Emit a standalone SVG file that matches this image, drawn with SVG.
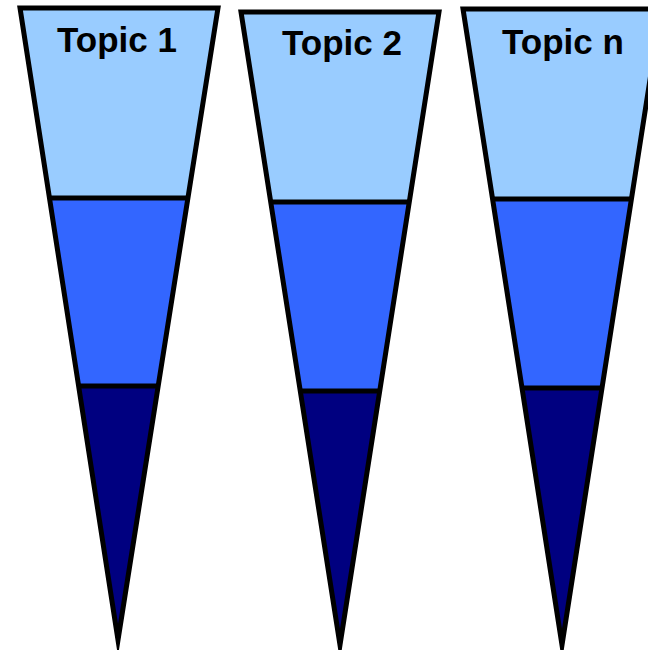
<svg xmlns="http://www.w3.org/2000/svg" width="648" height="650" viewBox="0 0 648 650">
<style>
.l1{fill:#99CCFF}
.l2{fill:#3366FF}
.l3{fill:#000080}
.ol{fill:none;stroke:#000;stroke-width:5;stroke-linejoin:miter;stroke-miterlimit:20}
.sep{stroke:#000;stroke-width:5}
.t{font-family:"Liberation Sans",Arial,sans-serif;font-weight:bold;font-size:35px;text-anchor:middle;fill:#000}
</style>
<rect width="648" height="650" fill="#fff"/>
<g id="topic1">
<polygon class="l1" points="20,8 218,8 188,198 49.5,198"/>
<polygon class="l2" points="49.5,198 188,198 158,386 78.6,386"/>
<polygon class="l3" points="78.6,386 158,386 118,640"/>
<line class="sep" x1="49.5" y1="198" x2="188" y2="198"/>
<line class="sep" x1="78.6" y1="386" x2="158" y2="386"/>
<polygon class="ol" points="20,8 218,8 118,640"/>
<text class="t" x="117" y="52">Topic 1</text>
</g>
<g id="topic2">
<polygon class="l1" points="241,12 439,12 409,202 270.6,202"/>
<polygon class="l2" points="270.6,202 409,202 379,391 299.6,391"/>
<polygon class="l3" points="299.6,391 379,391 340,645"/>
<line class="sep" x1="270.6" y1="202" x2="409" y2="202"/>
<line class="sep" x1="299.6" y1="391" x2="379" y2="391"/>
<polygon class="ol" points="241,12 439,12 340,645"/>
<text class="t" x="342" y="55">Topic 2</text>
</g>
<g id="topicn">
<polygon class="l1" points="463,9 661,9 631,199 492.5,199"/>
<polygon class="l2" points="492.5,199 631,199 601,388 521.5,388"/>
<polygon class="l3" points="521.5,388 601,388 562,645"/>
<line class="sep" x1="492.5" y1="199" x2="631" y2="199"/>
<line class="sep" x1="521.5" y1="388" x2="601" y2="388"/>
<polygon class="ol" points="463,9 661,9 562,645"/>
<text class="t" x="563" y="54">Topic n</text>
</g>
<g id="connectors"></g>
</svg>
